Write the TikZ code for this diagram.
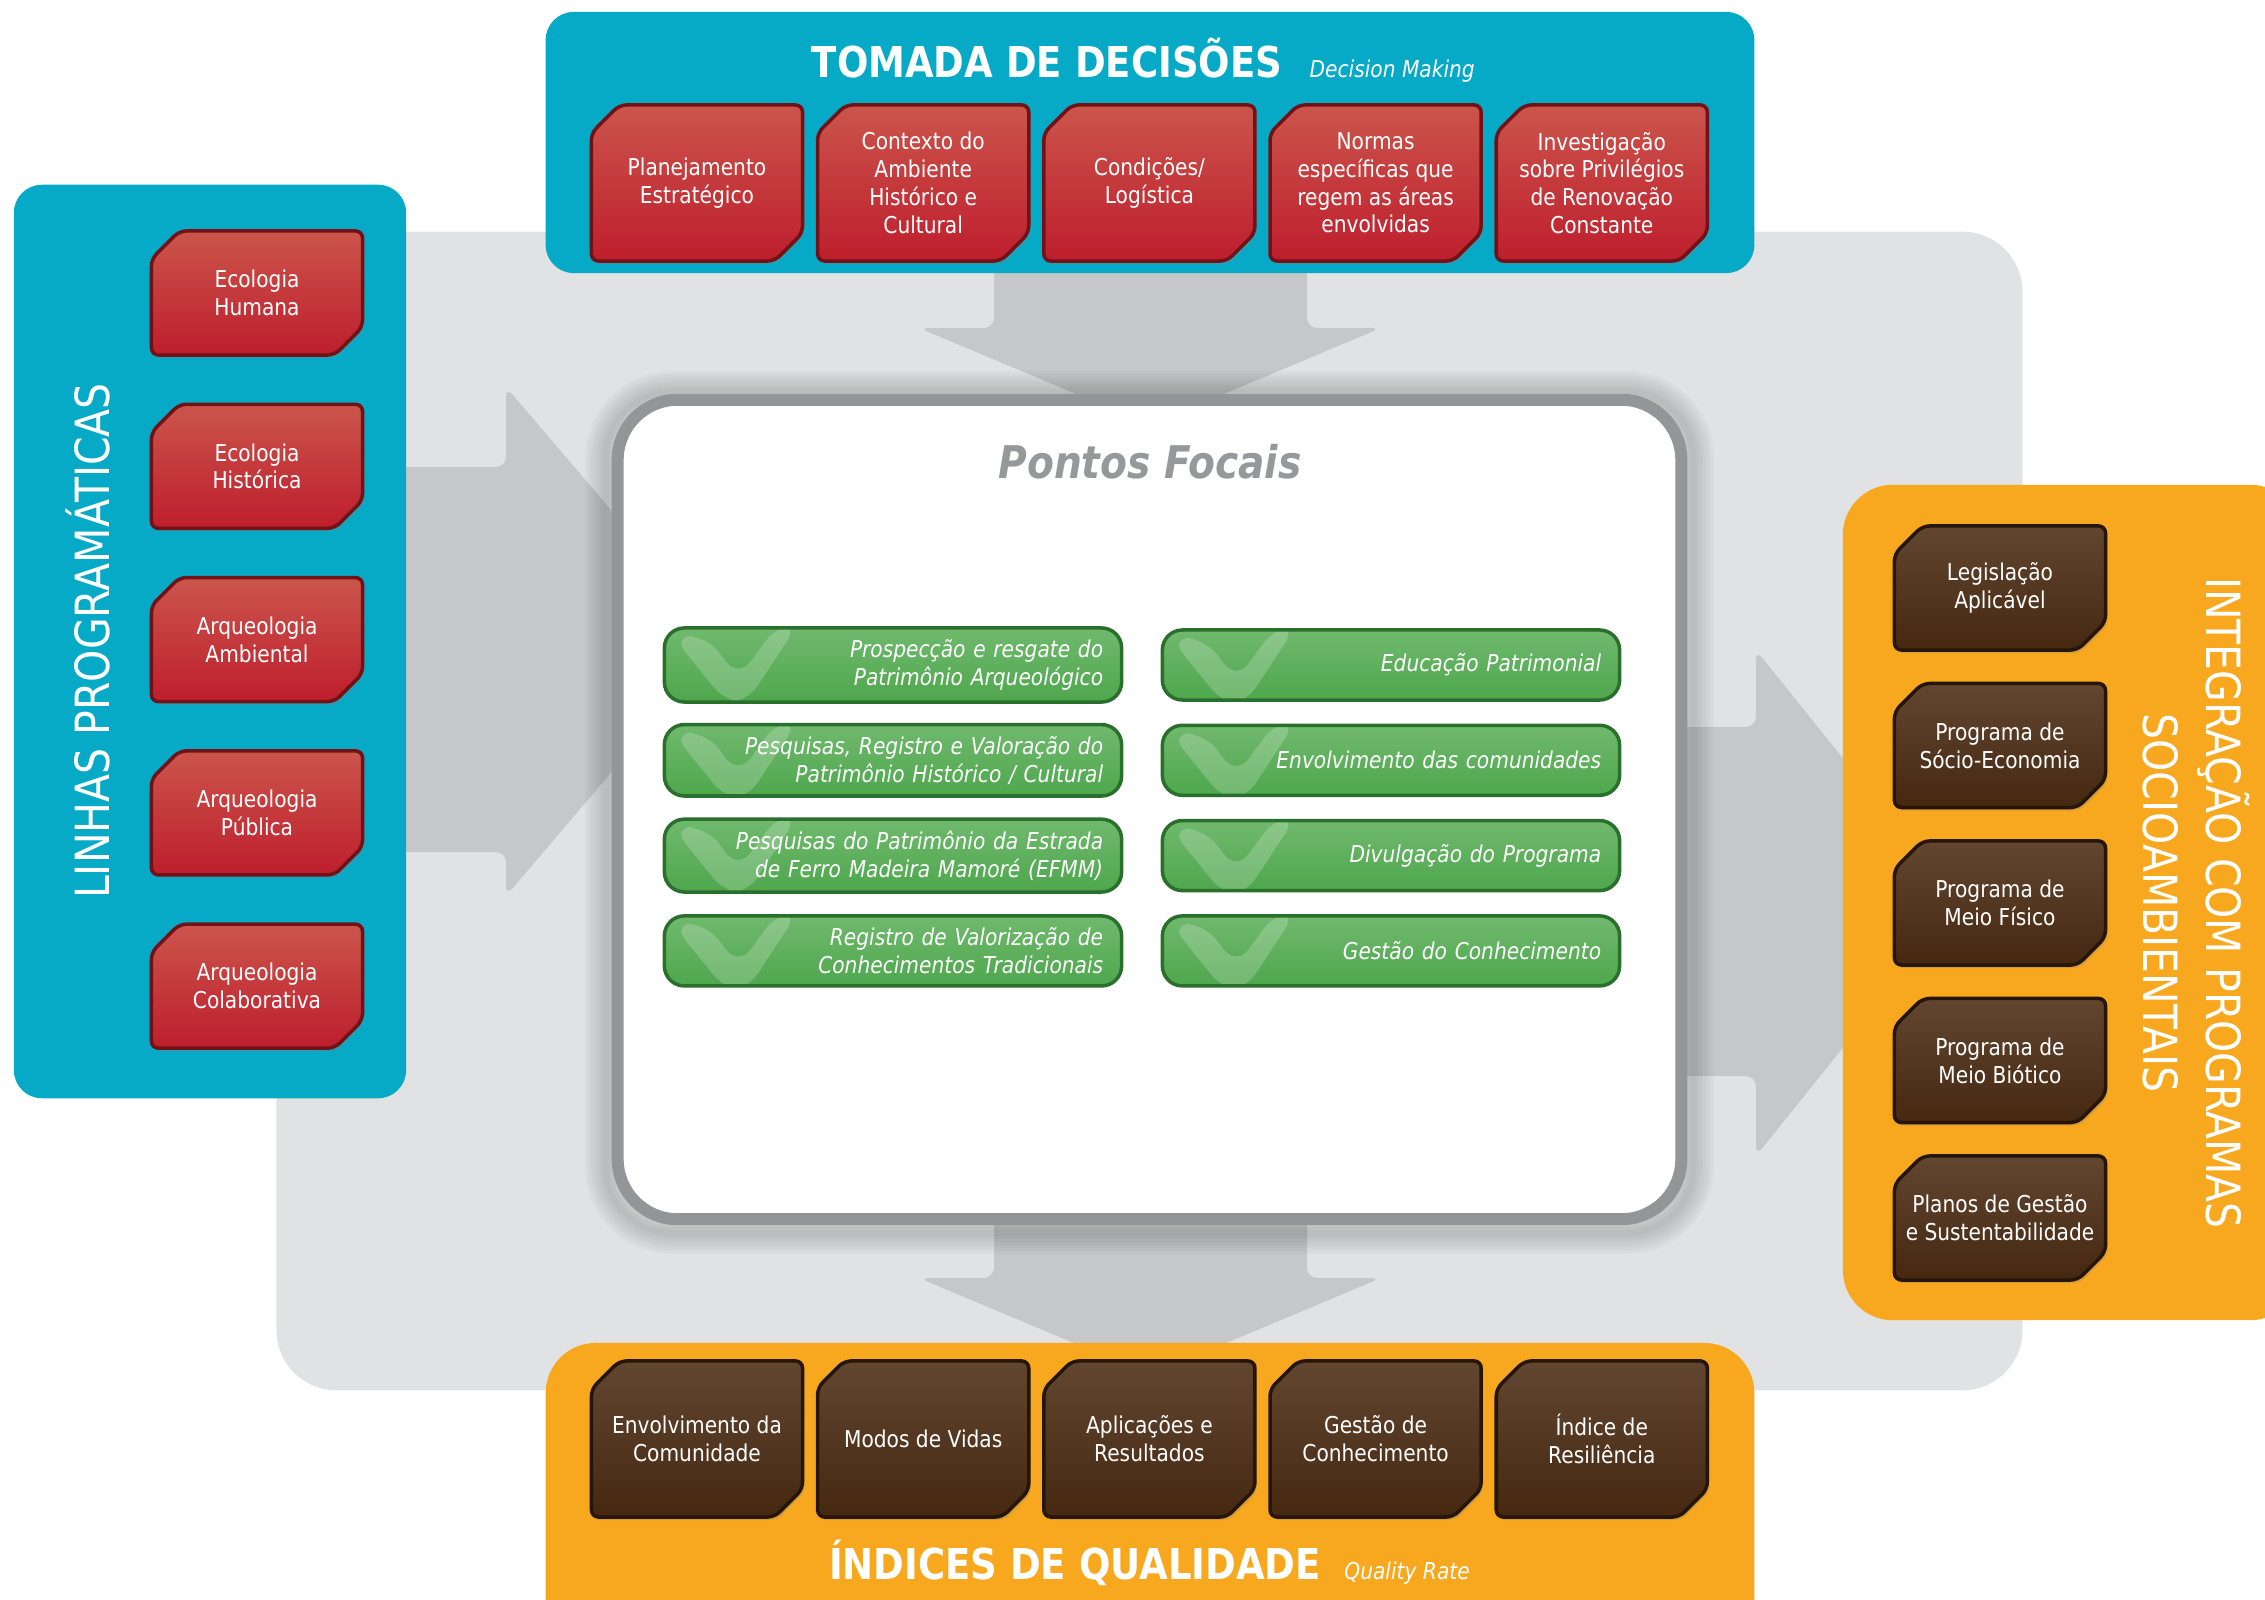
\documentclass[tikz,border=0pt]{standalone}
\usepackage{fontspec}
\setmainfont{DejaVu Sans}[FakeStretch=0.87]
\usetikzlibrary{shapes.misc,positioning,calc,shadows}

\definecolor{panelTeal}{RGB}{6,170,198}
\definecolor{panelOrange}{RGB}{248,168,30}
\definecolor{backGrey}{RGB}{225,226,228}
\definecolor{arrowGrey}{RGB}{198,199,201}
\definecolor{frameGrey}{RGB}{147,149,152}
\definecolor{focusGrey}{RGB}{150,152,155}
\definecolor{redTop}{RGB}{203,85,75}
\definecolor{redBottom}{RGB}{190,30,45}
\definecolor{redEdge}{RGB}{115,18,22}
\definecolor{brownTop}{RGB}{98,70,48}
\definecolor{brownBottom}{RGB}{70,40,17}
\definecolor{brownEdge}{RGB}{38,22,9}
\definecolor{greenTop}{RGB}{112,185,110}
\definecolor{greenBottom}{RGB}{78,167,77}
\definecolor{greenEdge}{RGB}{42,112,44}

\newcommand{\ChipFont}{\fontsize{6.6}{7.9}\selectfont}
\newcommand{\PanelTitle}{\fontsize{12.1}{14}\selectfont\bfseries}
\newcommand{\SideTitle}{\fontsize{13.4}{17.9}\selectfont}
\newcommand{\FocusTitle}{\fontsize{12.8}{14}\selectfont\bfseries\itshape}

\tikzset{
  panel/.style={inner sep=0pt, rounded corners=0.28cm},
  chip/.style={chamfered rectangle, chamfered rectangle corners={north west,south east},
    chamfered rectangle sep=0.14cm, rounded corners=2pt, line width=1pt,
    minimum width=2.11cm, inner xsep=-3pt, inner ysep=1pt, align=center, text=white, font=\ChipFont,
    drop shadow={opacity=0.3, shadow xshift=0.6pt, shadow yshift=-0.9pt}},
  redchip/.style={chip, draw=redEdge, top color=redTop, bottom color=redBottom},
  brownchip/.style={chip, draw=brownEdge, top color=brownTop, bottom color=brownBottom},
  tallchip/.style={minimum height=1.56cm},
  flatchip/.style={minimum height=1.24cm},
  focus/.style={rounded corners=0.2cm, draw=greenEdge, line width=1pt,
    top color=greenTop, bottom color=greenBottom,
    minimum width=4.57cm, minimum height=0.70cm, text width=4.2cm,
    align=right, text=white, font=\ChipFont\itshape,
    path picture={
      \fill[white, opacity=0.2]
        ($(path picture bounding box.north west)+(8,8)$) --
        ($(path picture bounding box.north west)+(42,8)$) --
        ($(path picture bounding box.north west)+(74,50)$) --
        ($(path picture bounding box.north west)+(114,-4)$) --
        ($(path picture bounding box.north west)+(134,-4)$) --
        ($(path picture bounding box.north west)+(82,75)$) --
        ($(path picture bounding box.north west)+(62,75)$) -- cycle;
    }},
  title/.style={text=white, inner sep=0pt},
  subtitle/.style={text=white, inner sep=0pt, font=\ChipFont\itshape},
}

\begin{document}
\begin{tikzpicture}[x=0.01cm, y=-0.01cm]
\useasboundingbox (0,0) rectangle (2265,1600);
\clip (0,0) rectangle (2265,1600);

% grey backdrop
\node[panel, fill=backGrey, rounded corners=0.6cm, minimum width=17.45cm, minimum height=11.58cm] (backdrop) at (1149.5,811) {};

% block arrows towards and out of the centre
\fill[arrowGrey, rounded corners=0.1cm] (380,467) -- (506,467) -- (506,387) -- (723,641) -- (506,896) -- (506,852) -- (380,852) -- cycle;
\fill[arrowGrey, rounded corners=0.1cm] (1650,727) -- (1756,727) -- (1756,650) -- (1959,903) -- (1756,1156) -- (1756,1076) -- (1650,1076) -- cycle;
\fill[arrowGrey, rounded corners=0.1cm] (994,250) -- (1307,250) -- (1307,328) -- (1381,328) -- (1150,425) -- (919,328) -- (994,328) -- cycle;
\fill[arrowGrey, rounded corners=0.1cm] (994,1200) -- (1307,1200) -- (1307,1278) -- (1381,1278) -- (1150,1375) -- (919,1278) -- (994,1278) -- cycle;

% soft shadow round the centre frame
\foreach \w in {0.06,0.12,...,0.42}
  \draw[black, opacity=0.025, line width=\w cm, rounded corners=0.66cm] (606,392) rectangle (1693,1233);

% centre frame
\node[draw=frameGrey, line width=0.12cm, fill=white, rounded corners=0.6cm, minimum width=10.63cm, minimum height=8.19cm] (pontos) at (1149.5,809.5) {};
\node[font=\FocusTitle, text=focusGrey, inner sep=0pt] (pontosTitle) at (1150,462) {Pontos Focais};

% side panels
\node[panel, fill=panelTeal, minimum width=3.92cm, minimum height=9.13cm] (linhas) at (210,641.5) {};
\node[panel, fill=panelTeal, minimum width=12.08cm, minimum height=2.61cm] (tomada) at (1150,142.5) {};
\node[panel, fill=panelOrange, rounded corners=0.5cm, minimum width=12.08cm, minimum height=3.17cm] (indices) at (1150,1501.5) {};
\node[panel, fill=panelOrange, rounded corners=0.5cm, minimum width=4.57cm, minimum height=8.35cm] (integracao) at (2071.5,902.5) {};

% panel titles
\node[title, font=\PanelTitle] (tomadaTitle) at (1047,58) {TOMADA DE DECISÕES};
\node[subtitle, anchor=base west] (tomadaSub) at ($(tomadaTitle.base east)+(26,0)$) {Decision Making};
\node[title, font=\PanelTitle] (indicesTitle) at (1075,1563) {ÍNDICES DE QUALIDADE};
\node[subtitle, anchor=base west] (indicesSub) at ($(indicesTitle.base east)+(22,0)$) {Quality Rate};
\node[title, font=\SideTitle, rotate=90] (linhasTitle) at (88,641) {LINHAS PROGRAMÁTICAS};
\node[title, font=\SideTitle, rotate=-90, align=center] (integracaoTitle) at (2196,903) {INTEGRAÇÃO COM PROGRAMAS\\SOCIOAMBIENTAIS};

% decision chips
\foreach \txt [count=\i] in {{Planejamento\\Estratégico}, {Contexto do\\Ambiente\\Histórico e\\Cultural}, {Condições/\\Logística}, {Normas\\específicas que\\regem as áreas\\envolvidas}, {Investigação\\sobre Privilégios\\de Renovação\\Constante}}
  \node[redchip, tallchip] (dec\i) at ({697+226.2*(\i-1)},183) {\txt};

% quality chips
\foreach \txt [count=\i] in {{Envolvimento da\\Comunidade}, {Modos de Vidas}, {Aplicações e\\Resultados}, {Gestão de\\Conhecimento}, {Índice de\\Resiliência}}
  \node[brownchip, tallchip] (qual\i) at ({697+226.2*(\i-1)},1439) {\txt};

% programme lines
\foreach \txt [count=\i] in {{Ecologia\\Humana}, {Ecologia\\Histórica}, {Arqueologia\\Ambiental}, {Arqueologia\\Pública}, {Arqueologia\\Colaborativa}}
  \node[redchip, flatchip] (lin\i) at (257,{293+173.3*(\i-1)}) {\txt};

% socio-environmental programmes
\foreach \txt [count=\i] in {{Legislação\\Aplicável}, {Programa de\\Sócio-Economia}, {Programa de\\Meio Físico}, {Programa de\\Meio Biótico}, {Planos de Gestão\\e Sustentabilidade}}
  \node[brownchip, flatchip] (prog\i) at (2000,{588+157.5*(\i-1)}) {\txt};

% focal points
\foreach \txt [count=\i] in {{Prospecção e resgate do\\Patrimônio Arqueológico}, {Pesquisas, Registro e Valoração do\\Patrimônio Histórico / Cultural}, {Pesquisas do Patrimônio da Estrada\\de Ferro Madeira Mamoré (EFMM)}, {Registro de Valorização de\\Conhecimentos Tradicionais}}
  \node[focus] (focL\i) at (893,{665+95.3*(\i-1)}) {\txt};
\foreach \txt [count=\i] in {{Educação Patrimonial}, {Envolvimento das comunidades}, {Divulgação do Programa}, {Gestão do Conhecimento}}
  \node[focus] (focR\i) at (1391,{665+95.3*(\i-1)}) {\txt};
\end{tikzpicture}
\end{document}
